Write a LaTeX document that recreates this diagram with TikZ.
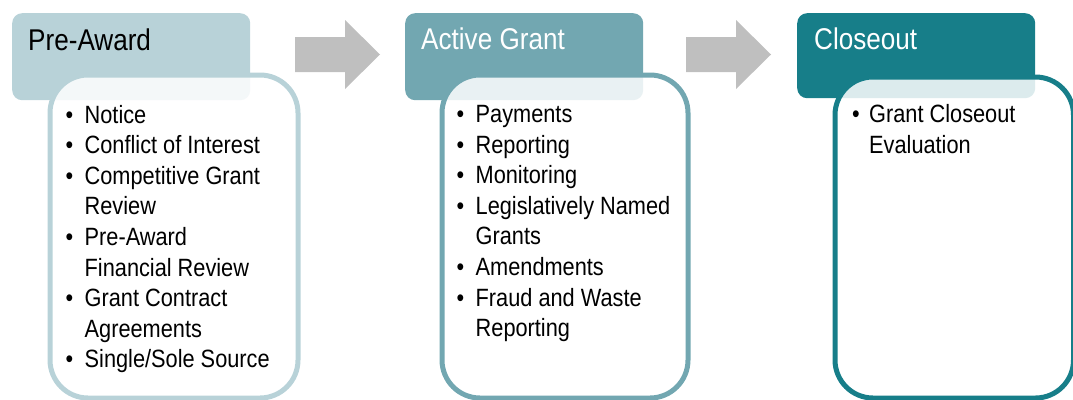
\documentclass[tikz,border=0pt]{standalone}
\usepackage{fontspec}
\setmainfont{Liberation Sans}[FakeStretch=0.87]
\definecolor{pre award}{HTML}{B8D2D8}
\definecolor{active grant}{HTML}{72A7B1}
\definecolor{closeout}{HTML}{177E89}
\colorlet{step arrow}{black!25}
\tikzset{headbox/.style={fill=#1, rounded corners=10pt, minimum width=238pt,
		minimum height=87pt, anchor=north west, inner sep=0pt},
	bodybox/.style={draw=#1, line width=5pt, fill=white, fill opacity=0.85,
		rounded corners=38pt, anchor=north west, inner sep=0pt, minimum height=323pt},
	headtext/.style={anchor=base west, inner sep=0pt, font=\fontsize{30}{36}\selectfont},
	items/.style={anchor=base west, inner sep=0pt, font=\fontsize{25}{30.6}\selectfont},
	flow/.style={fill=step arrow}}
\newcommand{\steparrow}[1]{\fill[flow] (#1) ++(0,-17.5) -- ++(50,0) -- ++(0,-17)
	-- ++(35,34.5) -- ++(-35,34.5) -- ++(0,-17) -- ++(-50,0) -- cycle;}
\newcommand{\bul}{\textbullet &}

\begin{document}
\begin{tikzpicture}[x=1pt,y=-1pt]
		\useasboundingbox (0,0) rectangle (1073,399);
		% headers
		\node[headbox=pre award] (prehead) at (12,13) {};
		\node[headbox=active grant] (activehead) at (405,13) {};
		\node[headbox=closeout, minimum height=85pt] (closehead) at (797,13) {};
		% bodies
		\node[bodybox=pre award, minimum width=248pt] (prebody) at (47.5,72.5) {};
		\node[bodybox=active grant, minimum width=246pt] (activebody) at (439.5,72.5) {};
		\node[bodybox=closeout, minimum width=238.5pt, minimum height=321pt] (closebody) at (832.5,74.5) {};
		% arrows
		\coordinate (arr1) at (295,54.5);
		\coordinate (arr2) at (686,54.5);
		\steparrow{arr1}
		\steparrow{arr2}
		% titles
		\node[headtext] (pretitle) at (28,50) {Pre-Award};
		\node[headtext, text=white] (activetitle) at (421,49) {Active Grant};
		\node[headtext, text=white] (closetitle) at (814,49) {Closeout};
		% lists
		\node[items] (prelist) at (65.5,123) {\begin{tabular}[t]{@{}p{19pt}@{}l@{}}
				\bul Notice\\
				\bul Conflict of Interest\\
				\bul Competitive Grant\\
				& Review\\
				\bul Pre-Award\\
				& Financial Review\\
				\bul Grant Contract\\
				& Agreements\\
				\bul Single/Sole Source
			\end{tabular}};
		\node[items] (activelist) at (456.5,122.5) {\begin{tabular}[t]{@{}p{19pt}@{}l@{}}
				\bul Payments\\
				\bul Reporting\\
				\bul Monitoring\\
				\bul Legislatively Named\\
				& Grants\\
				\bul Amendments\\
				\bul Fraud and Waste\\
				& Reporting
			\end{tabular}};
		\node[items] (closelist) at (852,122.5) {\begin{tabular}[t]{@{}p{17pt}@{}l@{}}
				\bul Grant Closeout\\
				& Evaluation
			\end{tabular}};
		\end{tikzpicture}
\end{document}
